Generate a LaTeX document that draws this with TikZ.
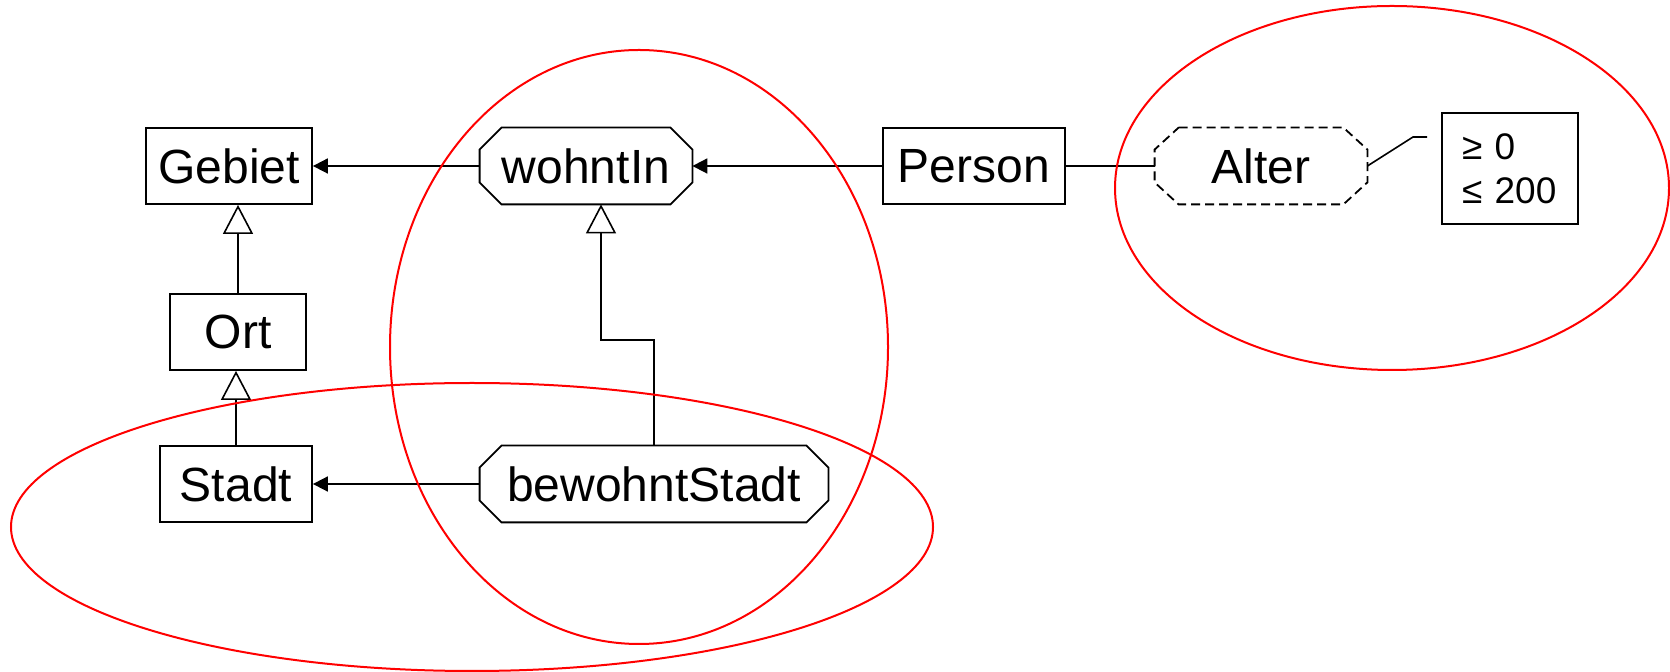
\documentclass[tikz,border=0pt]{standalone}
\usepackage{fontspec}
\setmainfont{Liberation Sans}
\usetikzlibrary{arrows.meta,calc}
\newcommand{\octagonpath}[4][]{%
  \draw[#1] ($(#2.north west)+(#3,0)$) -- ($(#2.north east)+(-#3,0)$) -- ($(#2.north east)+(0,#4)$)
   -- ($(#2.south east)+(0,-#4)$) -- ($(#2.south east)+(-#3,0)$) -- ($(#2.south west)+(#3,0)$)
   -- ($(#2.south west)+(0,-#4)$) -- ($(#2.north west)+(0,#4)$) -- cycle;}
\begin{document}
\begin{tikzpicture}[x=0.5pt,y=-0.5pt,
  every node/.style={font=\fontsize{24}{28}\selectfont, inner sep=0pt, minimum height=38pt},
  box/.style={draw, line width=0.9pt},
  octbox/.style={},
  assoc/.style={line width=0.9pt, -{Triangle[length=7.5pt,width=7.5pt]}},
  gen/.style={line width=0.8pt, -{Triangle[open,fill=white,length=14.5pt,width=15pt]}},
  hull/.style={draw=red, line width=1pt}]
\useasboundingbox (0,0) rectangle (1670,672);
% nodes
\node[box, minimum width=83pt] (Gebiet) at (229,166) {Gebiet};
\node[octbox, minimum width=106pt] (wohntIn) at (586,166) {wohntIn};
\node[box, minimum width=91pt] (Person) at (974,166) {Person};
\node[octbox, minimum width=106pt] (Alter) at (1261,166) {Alter};
\node[box, minimum width=68pt] (Ort) at (238,332) {Ort};
\node[box, minimum width=76pt] (Stadt) at (236,484) {Stadt};
\node[octbox, minimum width=174pt] (bewohntStadt) at (654,484) {bewohntStadt};
\node[box, minimum width=68pt, minimum height=55.5pt, text width=48pt, inner xsep=10pt,
      align=left, font=\fontsize{18.5}{22}\selectfont] (Constraint) at (1510,168.5) {≥ 0\\≤ 200};
% octagon outlines
\octagonpath[line width=0.9pt]{wohntIn}{22}{22}
\octagonpath[line width=0.9pt]{bewohntStadt}{22}{22}
\octagonpath[line width=0.9pt, dash pattern=on 4.5pt off 2.5pt]{Alter}{24}{22}
% connectors
\draw[assoc] (wohntIn.west) -- (Gebiet.east);
\draw[assoc] (Person.west) -- (wohntIn.east);
\draw[assoc] (bewohntStadt.west) -- (Stadt.east);
\draw[line width=0.9pt] (Person.east) -- (Alter.west);
\coordinate (n1) at (1413,137);
\coordinate (n2) at (1427,137);
\draw[line width=0.8pt] (Alter.east) -- (n1) -- (n2);
\draw[gen] (Ort.north) -- (Ort.north |- Gebiet.south);
\draw[gen] (Stadt.north) -- (Stadt.north |- Ort.south);
\coordinate (b1) at (654,340);
\coordinate (b2) at (601,340);
\draw[gen] (bewohntStadt.north -| b1) -- (b1) -- (b2) -- (b2 |- wohntIn.south);
% red hulls
\draw[hull] (639,347) ellipse [x radius=249, y radius=297];
\draw[hull] (472,527) ellipse [x radius=461, y radius=144];
\draw[hull] (1392,188) ellipse [x radius=277, y radius=182];
\end{tikzpicture}
\end{document}
